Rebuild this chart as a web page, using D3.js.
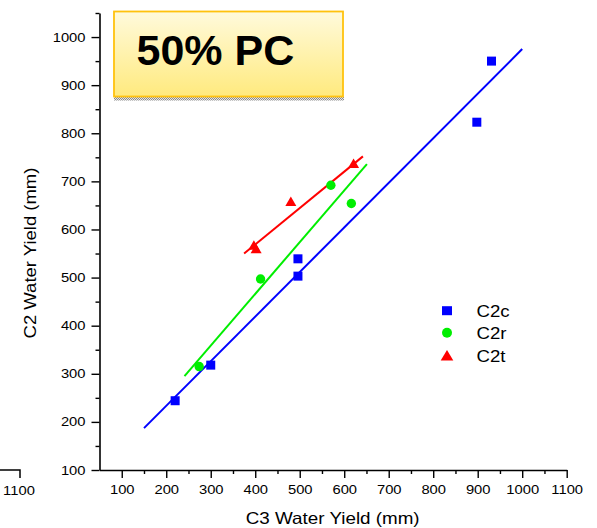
<!DOCTYPE html>
<html><head><meta charset="utf-8">
<script src="https://cdn.jsdelivr.net/npm/d3@7"></script>
<style>
html,body{margin:0;padding:0;background:#fff;}
svg{display:block;}
text{font-family:"Liberation Sans",Arial,sans-serif;fill:#000;}
</style></head>
<body>
<script>
// ---- data ----
const c2cX = [220, 300, 496, 496, 898, 931];
const c2cY = [244, 318, 503, 539, 823, 950];
const c2rX = [274, 412, 570, 616];
const c2rY = [315, 497, 692, 654];
const c2tX = [397, 402, 480, 621];
const c2tY = [567, 560, 658, 737];
// fitted lines (end points)
const c2cFitX = [150, 1000], c2cFitY = [187, 975];
const c2rFitX = [241, 651],  c2rFitY = [295, 736];
const c2tFitX = [375, 642],  c2tFitY = [550, 752];
const xMajor = [100,200,300,400,500,600,700,800,900,1000,1100];
const xMinor = [150,250,350,450,550,650,750,850,950,1050];
const yMajor = [100,200,300,400,500,600,700,800,900,1000];
const yMinor = [150,250,350,450,550,650,750,850,950,1050];
const seriesNames = ["C2c","C2r","C2t"];
const titleText = "50% PC";
const xTitle = "C3 Water Yield (mm)";
const yTitle = "C2 Water Yield (mm)";

const W = 597, H = 528;
const svg = d3.select("body").append("svg").attr("width", W).attr("height", H);

const x = d3.scaleLinear().domain([50, 1100]).range([99.5, 566.7]);
const y = d3.scaleLinear().domain([100, 1050]).range([470, 13]);

const colors = {C2c:"#0000ff", C2r:"#00ee00", C2t:"#ff0000"};

// stretch helper (reference text is horizontally widened)
function stretch(sel, f){
  sel.each(function(){
    const w = this.getComputedTextLength();
    d3.select(this).attr("textLength", w*f).attr("lengthAdjust","spacingAndGlyphs");
  });
}

// ---- defs ----
const defs = svg.append("defs");
const grad = defs.append("linearGradient").attr("id","yg").attr("x1",0).attr("y1",0).attr("x2",0).attr("y2",1);
grad.append("stop").attr("offset","0%").attr("stop-color","#fffadc");
grad.append("stop").attr("offset","100%").attr("stop-color","#ffea7e");
const pat = defs.append("pattern").attr("id","dots").attr("width",2).attr("height",2).attr("patternUnits","userSpaceOnUse");
pat.append("rect").attr("width",2).attr("height",2).attr("fill","#e6e6e6");
pat.append("rect").attr("width",1).attr("height",1).attr("fill","#8a8a8a");
pat.append("rect").attr("x",1).attr("y",1).attr("width",1).attr("height",1).attr("fill","#8a8a8a");

// ---- axes ----
const xg = svg.append("g").attr("transform","translate(0,470)");
xg.call(d3.axisBottom(x).tickValues(xMajor).tickSize(8).tickSizeOuter(0).tickPadding(7).tickFormat(d3.format("d")));
const xm = svg.append("g").attr("transform","translate(0,470)");
xm.call(d3.axisBottom(x).tickValues(xMinor).tickSize(4).tickSizeOuter(0).tickFormat(""));
xm.select(".domain").remove();

const yg = svg.append("g").attr("transform","translate(99.5,0)");
yg.call(d3.axisLeft(y).tickValues(yMajor).tickSize(8).tickSizeOuter(0).tickPadding(6).tickFormat(d3.format("d")));
const ym = svg.append("g").attr("transform","translate(99.5,0)");
ym.call(d3.axisLeft(y).tickValues(yMinor).tickSize(4).tickSizeOuter(0).tickFormat(""));
ym.select(".domain").remove();

svg.selectAll(".domain").attr("stroke","#000").attr("stroke-width",1.6);
svg.selectAll(".tick line").attr("stroke","#000").attr("stroke-width",1.4);
svg.selectAll(".tick text").attr("font-size",12.5).attr("font-family","Liberation Sans, Arial, sans-serif").attr("fill","#000");
stretch(svg.selectAll(".tick text"), 1.18);

// cropped neighbouring axis fragment at bottom-left
svg.append("path").attr("d", "M0,470H20V478").attr("fill","none").attr("stroke","#000").attr("stroke-width",1.5);
const frag = svg.append("text").attr("x",19).attr("y",494.5).attr("text-anchor","middle").attr("font-size",12.5).text(xMajor[xMajor.length-1]);
stretch(frag, 1.18);

// axis titles
const xt = svg.append("text").attr("x",332.7).attr("y",523.5).attr("text-anchor","middle").attr("font-size",16.5).text(xTitle);
stretch(xt, 1.14);
const yt = svg.append("text").attr("transform","translate(36,253) rotate(-90)").attr("text-anchor","middle").attr("font-size",16.5).text(yTitle);
stretch(yt, 1.12);

// ---- fit lines ----
const line = d3.line().x(d=>x(d[0])).y(d=>y(d[1]));
const fits = [
  {name:"C2c", xs:c2cFitX, ys:c2cFitY},
  {name:"C2r", xs:c2rFitX, ys:c2rFitY},
  {name:"C2t", xs:c2tFitX, ys:c2tFitY}
];
fits.forEach(f=>{
  svg.append("path").attr("d", line(d3.zip(f.xs, f.ys)))
    .attr("fill","none").attr("stroke", colors[f.name]).attr("stroke-width",2);
});

// ---- markers ----
const tri = "M0,-5L5.5,4.5L-5.5,4.5Z";
svg.append("g").selectAll("rect").data(d3.zip(c2cX,c2cY)).join("rect")
  .attr("x",d=>x(d[0])-4.5).attr("y",d=>y(d[1])-4.5).attr("width",9).attr("height",9)
  .attr("fill",colors.C2c);
svg.append("g").selectAll("circle").data(d3.zip(c2rX,c2rY)).join("circle")
  .attr("cx",d=>x(d[0])).attr("cy",d=>y(d[1])).attr("r",4.7)
  .attr("fill",colors.C2r);
svg.append("g").selectAll("path").data(d3.zip(c2tX,c2tY)).join("path")
  .attr("d",tri).attr("transform",d=>`translate(${x(d[0])},${y(d[1])})`)
  .attr("fill",colors.C2t);

// ---- legend ----
const lg = svg.append("g");
const legY = [310.7, 332.7, 355.5];
lg.append("rect").attr("x",442).attr("y",legY[0]-4.5).attr("width",10).attr("height",9).attr("fill",colors.C2c);
lg.append("circle").attr("cx",447).attr("cy",legY[1]).attr("r",5).attr("fill",colors.C2r);
lg.append("path").attr("d","M0,-5.5L6.3,5L-6.3,5Z").attr("transform",`translate(447,${legY[2]})`).attr("fill",colors.C2t);
seriesNames.forEach((n,i)=>{
  const t = lg.append("text").attr("x",476.5).attr("y",legY[i]+6).attr("font-size",16.5).text(n);
  stretch(t, 1.13);
});

// ---- title box ----
svg.append("rect").attr("x",114).attr("y",97).attr("width",230).attr("height",3.5).attr("fill","url(#dots)");
svg.append("rect").attr("x",114).attr("y",11.5).attr("width",229).attr("height",85)
  .attr("fill","url(#yg)").attr("stroke","#ffc20e").attr("stroke-width",1.8);
svg.append("text").attr("x",136.5).attr("y",65).attr("font-size",43).attr("font-weight","bold").text(titleText);
</script>
</body></html>
